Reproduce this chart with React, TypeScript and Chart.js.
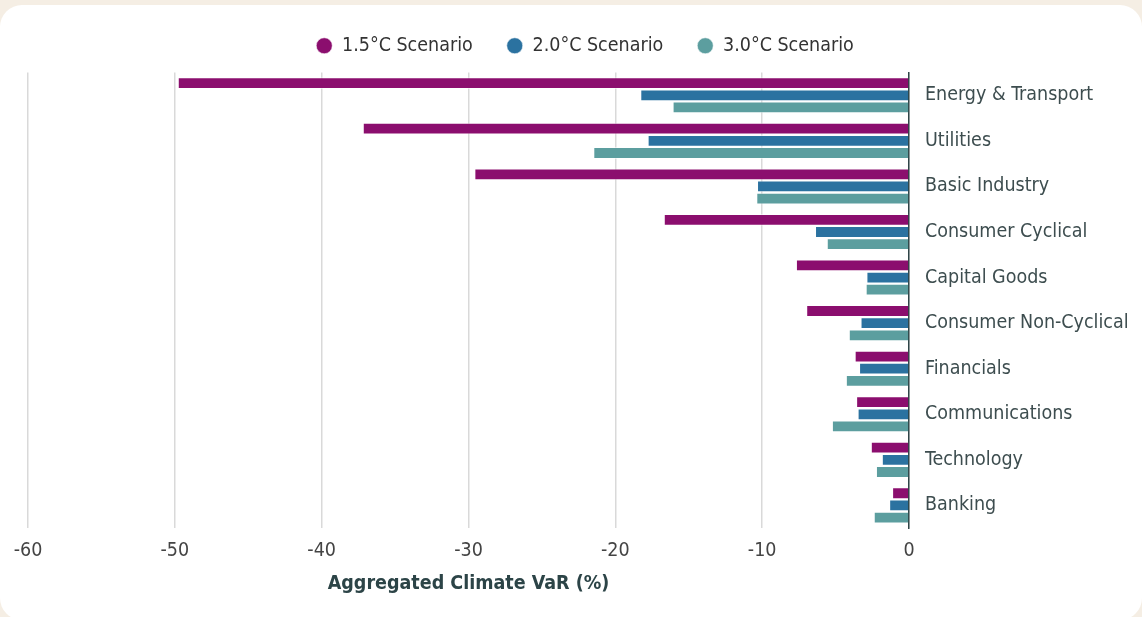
import React, { useEffect, useRef } from "react";
import { Chart, registerables } from "chart.js";

Chart.register(...registerables);

const categories = [
  "Energy & Transport",
  "Utilities",
  "Basic Industry",
  "Consumer Cyclical",
  "Capital Goods",
  "Consumer Non-Cyclical",
  "Financials",
  "Communications",
  "Technology",
  "Banking",
];

const scenario15 = [-49.8, -37.2, -29.6, -16.7, -7.7, -7.0, -3.7, -3.6, -2.6, -1.15];
const scenario20 = [-18.3, -17.8, -10.35, -6.4, -2.9, -3.3, -3.4, -3.5, -1.85, -1.35];
const scenario30 = [-16.1, -21.5, -10.4, -5.6, -2.95, -4.1, -4.3, -5.25, -2.25, -2.4];

const seriesNames = ["1.5°C Scenario", "2.0°C Scenario", "3.0°C Scenario"];
const seriesColors = ["#8B0E6E", "#2B72A0", "#5C9E9F"];

const FONT = "'DejaVu Sans Condensed', 'Noto Sans', sans-serif";

const legendGap = {
  id: "legendGap",
  beforeInit(chart: any) {
    const legend = chart.legend;
    if (!legend) return;
    const orig = legend.fit;
    legend.fit = function () {
      orig.call(this);
      this.height += 7;
    };
  },
};

export default function App() {
  const ref = useRef<HTMLCanvasElement | null>(null);

  useEffect(() => {
    if (!ref.current) return;
    const values = [scenario15, scenario20, scenario30];
    const chart = new Chart(ref.current, {
      type: "bar",
      data: {
        labels: categories,
        datasets: values.map((v, i) => ({
          label: seriesNames[i],
          data: v,
          backgroundColor: seriesColors[i],
          borderColor: "rgba(255,255,255,0.55)",
          borderWidth: 1,
          categoryPercentage: 0.8,
          barPercentage: 0.97,
        })),
      },
      options: {
        indexAxis: "y",
        responsive: false,
        animation: false,
        maintainAspectRatio: false,
        layout: { padding: { top: -3, left: 28, right: 0, bottom: 21 } },
        plugins: {
          legend: {
            position: "top",
            labels: {
              usePointStyle: true,
              pointStyle: "circle",
              boxWidth: 16,
              boxHeight: 11.3,
              padding: 34,
              color: "#333",
              font: { family: FONT, size: 19.5 },
            },
          },
          tooltip: { enabled: false },
        },
        scales: {
          x: {
            min: -60,
            max: 0,
            ticks: {
              stepSize: 10,
              padding: 11,
              color: "#444",
              font: { family: FONT, size: 19.5 },
            },
            grid: { color: "#d9d9d9", lineWidth: 1.5, drawTicks: false },
            border: { display: false },
            title: {
              display: true,
              text: "Aggregated Climate VaR (%)",
              color: "#2c4447",
              font: { family: FONT, size: 19.5, weight: "bold" },
              padding: { top: -1, bottom: 0 },
            },
          },
          y: {
            position: "right",
            ticks: {
              padding: 16,
              color: "#3d4d4f",
              font: { family: FONT, size: 19.5 },
            },
            grid: { display: false, drawTicks: false },
            border: { display: true, color: "#2f4547", width: 1.5 },
            afterFit: (scale: any) => {
              scale.width = 233;
            },
          },
        },
      },
      plugins: [legendGap],
    });
    return () => chart.destroy();
  }, []);

  return (
    <div
      style={{
        position: "fixed",
        inset: 0,
        width: 1142,
        height: 617,
        background: "#f5eee4",
        overflow: "hidden",
      }}
    >
      <div
        style={{
          position: "absolute",
          left: 0,
          top: 5,
          width: 1142,
          height: 615,
          background: "#ffffff",
          borderRadius: 22,
        }}
      >
        <canvas ref={ref} width={1142} height={612} style={{ display: "block" }} />
      </div>
    </div>
  );
}
